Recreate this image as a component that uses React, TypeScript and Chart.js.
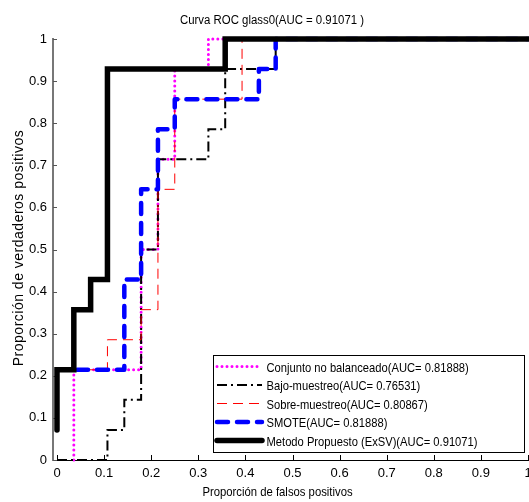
import { useEffect, useRef } from "react";
import { Chart, registerables } from "chart.js";

Chart.register(...registerables);

const FONT = "'Liberation Sans', Arial, Helvetica, sans-serif";

const TITLE = "Curva ROC glass0(AUC = 0.91071 )";
const X_TITLE = "Proporción de falsos positivos";
const Y_TITLE = "Proporción de verdaderos positivos";

const X_TICKS = [0, 0.1, 0.2, 0.3, 0.4, 0.5, 0.6, 0.7, 0.8, 0.9, 1];
const X_TICK_LABELS = ["0", "0.1", "0.2", "0.3", "0.4", "0.5", "0.6", "0.7", "0.8", "0.9", "1"];
const Y_TICKS = [0, 0.1, 0.2, 0.3, 0.4, 0.5, 0.6, 0.7, 0.8, 0.9, 1];
const Y_TICK_LABELS = ["0", "0.1", "0.2", "0.3", "0.4", "0.5", "0.6", "0.7", "0.8", "0.9", "1"];

const SERIES_LABELS = [
  "Conjunto no balanceado(AUC= 0.81888)",
  "Bajo-muestreo(AUC= 0.76531)",
  "Sobre-muestreo(AUC= 0.80867)",
  "SMOTE(AUC= 0.81888)",
  "Metodo Propuesto (ExSV)(AUC= 0.91071)",
];

// Conjunto no balanceado
const FPR_NOBAL = [0.0357, 0.0357, 0.1786, 0.1786, 0.2143, 0.2143, 0.25, 0.25, 0.3214, 0.3214, 1];
const TPR_NOBAL = [0, 0.2143, 0.2143, 0.5, 0.5, 0.7143, 0.7143, 0.9286, 0.9286, 1, 1];

// Bajo-muestreo
const FPR_BAJO = [0, 0.1071, 0.1071, 0.1429, 0.1429, 0.1786, 0.1786, 0.2143, 0.2143, 0.3214, 0.3214, 0.3571, 0.3571, 0.4643, 0.4643, 1];
const TPR_BAJO = [0, 0, 0.0714, 0.0714, 0.1429, 0.1429, 0.5, 0.5, 0.7143, 0.7143, 0.7857, 0.7857, 0.9286, 0.9286, 1, 1];

// Sobre-muestreo
const FPR_SOBRE = [0, 0.1071, 0.1071, 0.1786, 0.1786, 0.2143, 0.2143, 0.25, 0.25, 0.3929, 0.3929, 1];
const TPR_SOBRE = [0.2143, 0.2143, 0.2857, 0.2857, 0.3571, 0.3571, 0.6429, 0.6429, 0.8571, 0.8571, 1, 1];

// SMOTE
const FPR_SMOTE = [0, 0.1429, 0.1429, 0.1786, 0.1786, 0.2143, 0.2143, 0.25, 0.25, 0.4286, 0.4286, 0.4643, 0.4643, 1];
const TPR_SMOTE = [0.2143, 0.2143, 0.4286, 0.4286, 0.6429, 0.6429, 0.7857, 0.7857, 0.8571, 0.8571, 0.9286, 0.9286, 1, 1];

// Metodo Propuesto (ExSV)
const FPR_EXSV = [0, 0, 0.0357, 0.0357, 0.0714, 0.0714, 0.1071, 0.1071, 0.3571, 0.3571, 1];
const TPR_EXSV = [0.0714, 0.2143, 0.2143, 0.3571, 0.3571, 0.4286, 0.4286, 0.9286, 0.9286, 1, 1];

const zip = (xs: number[], ys: number[]) => xs.map((x, i) => ({ x, y: ys[i] }));

function drawScaledText(
  ctx: CanvasRenderingContext2D,
  text: string,
  x: number,
  y: number,
  font: string,
  sx: number,
  align: CanvasTextAlign
) {
  ctx.save();
  ctx.font = font;
  ctx.textAlign = align;
  ctx.textBaseline = "alphabetic";
  ctx.fillStyle = "#000";
  ctx.translate(x, y);
  ctx.scale(sx, 1);
  ctx.fillText(text, 0, 0);
  ctx.restore();
}

const tickMarksPlugin = {
  id: "tickMarks",
  beforeDatasetsDraw(chart: any) {
    const { ctx, chartArea } = chart;
    const xs = chart.scales.x;
    const ys = chart.scales.y;
    ctx.save();
    ctx.lineWidth = 1;
    ctx.strokeStyle = "#000";
    X_TICKS.forEach((v) => {
      const px = Math.round(xs.getPixelForValue(v)) + 0.5;
      ctx.beginPath();
      ctx.moveTo(px, chartArea.bottom);
      ctx.lineTo(px, chartArea.bottom - 5);
      ctx.stroke();
    });
    ctx.strokeStyle = "#555";
    Y_TICKS.forEach((v) => {
      const py = Math.round(ys.getPixelForValue(v)) + 0.5;
      ctx.beginPath();
      ctx.moveTo(chartArea.left, py);
      ctx.lineTo(chartArea.left + 4, py);
      ctx.stroke();
    });
    ctx.restore();
  },
};

const textAndLegendPlugin = {
  id: "textAndLegend",
  afterDraw(chart: any) {
    const ctx: CanvasRenderingContext2D = chart.ctx;
    // Title
    drawScaledText(ctx, TITLE, 272, 23.5, `12px ${FONT}`, 0.95, "center");
    // X axis title
    drawScaledText(ctx, X_TITLE, 277.5, 496, `13px ${FONT}`, 0.87, "center");
    // Y axis title
    ctx.save();
    ctx.font = `14px ${FONT}`;
    (ctx as any).letterSpacing = "0.5px";
    ctx.textAlign = "center";
    ctx.textBaseline = "alphabetic";
    ctx.fillStyle = "#000";
    ctx.translate(23, 248);
    ctx.rotate(-Math.PI / 2);
    ctx.fillText(Y_TITLE, 0, 0);
    ctx.restore();

    // Legend
    const left = 213;
    const top = 355;
    const right = 525;
    const bottom = 453;
    ctx.save();
    ctx.fillStyle = "#fff";
    ctx.fillRect(left, top, right - left, bottom - top);
    ctx.strokeStyle = "#000";
    ctx.lineWidth = 1;
    ctx.strokeRect(left + 0.5, top + 0.5, right - left - 1, bottom - top - 1);
    ctx.restore();

    const ds = chart.data.datasets;
    ds.forEach((d: any, i: number) => {
      const base = 371.5 + i * 18.5;
      const ly = base - 5;
      ctx.save();
      ctx.beginPath();
      ctx.strokeStyle = d.borderColor;
      ctx.lineWidth = d.borderWidth;
      ctx.setLineDash(d.borderDash || []);
      ctx.lineCap = d.borderCapStyle || "butt";
      ctx.moveTo(217, ly);
      ctx.lineTo(262, ly);
      ctx.stroke();
      ctx.restore();
      drawScaledText(ctx, d.label, 266.5, base, `13px ${FONT}`, 0.86, "left");
    });
  },
};

export default function App() {
  const canvasRef = useRef<HTMLCanvasElement | null>(null);

  useEffect(() => {
    if (!canvasRef.current) return;
    const common = { pointRadius: 0, pointHoverRadius: 0, fill: false, tension: 0, clip: false as any };
    const chart = new Chart(canvasRef.current, {
      type: "line",
      data: {
        datasets: [
          {
            ...common,
            label: SERIES_LABELS[0],
            data: zip(FPR_NOBAL, TPR_NOBAL),
            borderColor: "#ff00ff",
            borderWidth: 3,
            borderDash: [0, 5],
            borderCapStyle: "round",
            borderJoinStyle: "round",
            order: 5,
          },
          {
            ...common,
            label: SERIES_LABELS[1],
            data: zip(FPR_BAJO, TPR_BAJO),
            borderColor: "#000000",
            borderWidth: 2,
            borderDash: [10, 4, 2, 4],
            borderCapStyle: "butt",
            borderJoinStyle: "miter",
            order: 4,
          },
          {
            ...common,
            label: SERIES_LABELS[2],
            data: zip(FPR_SOBRE, TPR_SOBRE),
            borderColor: "#ff0000",
            borderWidth: 1,
            borderDash: [10, 6],
            borderCapStyle: "butt",
            borderJoinStyle: "miter",
            order: 3,
          },
          {
            ...common,
            label: SERIES_LABELS[3],
            data: zip(FPR_SMOTE, TPR_SMOTE),
            borderColor: "#0000ff",
            borderWidth: 4.5,
            borderDash: [11, 9],
            borderCapStyle: "round",
            borderJoinStyle: "round",
            order: 2,
          },
          {
            ...common,
            label: SERIES_LABELS[4],
            data: zip(FPR_EXSV, TPR_EXSV),
            borderColor: "#000000",
            borderWidth: 5.5,
            borderDash: [],
            borderCapStyle: "round",
            borderJoinStyle: "miter",
            order: 1,
          },
        ] as any,
      },
      options: {
        animation: false,
        responsive: false,
        maintainAspectRatio: false,
        events: [],
        layout: { padding: { top: 39, right: 1, left: 0, bottom: 0 } },
        plugins: {
          legend: { display: false },
          title: { display: false },
          tooltip: { enabled: false },
        },
        scales: {
          x: {
            type: "linear",
            min: -0.0085,
            max: 1,
            afterBuildTicks: (s: any) => {
              s.ticks = X_TICKS.map((v) => ({ value: v }));
            },
            afterFit: (s: any) => {
              s.height = 42;
              s.paddingLeft = 0;
              s.paddingRight = 0;
            },
            ticks: {
              callback: (_v: any, i: number) => X_TICK_LABELS[i],
              font: { size: 13, family: FONT },
              color: "#000",
              padding: 6,
              maxRotation: 0,
              autoSkip: false,
            },
            grid: { display: false, drawTicks: false },
            border: { display: true, color: "#000", width: 1 },
          },
          y: {
            type: "linear",
            min: 0,
            max: 1,
            afterBuildTicks: (s: any) => {
              s.ticks = Y_TICKS.map((v) => ({ value: v }));
            },
            afterFit: (s: any) => {
              s.width = 53;
              s.paddingTop = 0;
              s.paddingBottom = 0;
            },
            ticks: {
              callback: (_v: any, i: number) => Y_TICK_LABELS[i],
              font: { size: 13, family: FONT },
              color: "#000",
              padding: 6,
              autoSkip: false,
            },
            grid: { display: false, drawTicks: false },
            border: { display: true, color: "#777", width: 2 },
          },
        },
      },
      plugins: [tickMarksPlugin, textAndLegendPlugin],
    });
    return () => chart.destroy();
  }, []);

  return (
    <div style={{ position: "fixed", left: 0, top: 0, width: 529, height: 502, background: "#fff" }}>
      <canvas ref={canvasRef} width={529} height={502} style={{ display: "block" }} />
    </div>
  );
}
